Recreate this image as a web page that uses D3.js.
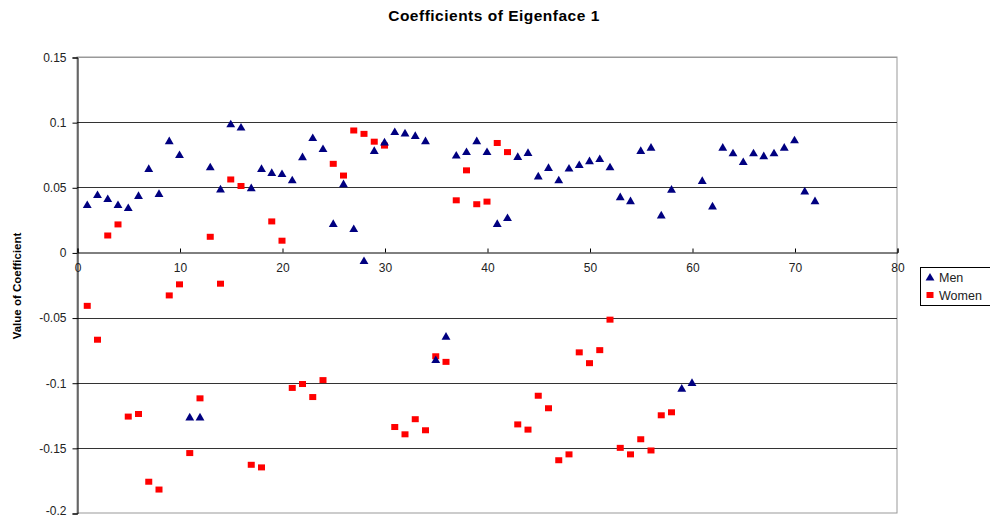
<!DOCTYPE html>
<html><head><meta charset="utf-8">
<script src="https://cdn.jsdelivr.net/npm/d3@7"></script>
<style>body{margin:0;background:#fff}svg{display:block}text{font-family:Arial,"Liberation Sans",sans-serif}</style>
</head><body>
<svg id="c" width="990" height="519"></svg>
<script>
const title = "Coefficients of Eigenface 1";
const yLabel = "Value of Coefficient";
const seriesNames = ["Men", "Women"];
const xTicks = [0,10,20,30,40,50,60,70,80];
const yTicks = [0.15,0.1,0.05,0,-0.05,-0.1,-0.15,-0.2];
const menValues = [0.036,0.0437,0.0406,0.036,0.0337,0.043,0.0637,0.0445,0.085,0.0744,
  -0.127,-0.127,0.065,0.048,0.098,0.0955,0.049,0.0637,0.0606,0.0598,
  0.055,0.0728,0.0874,0.079,0.0215,0.052,0.0176,-0.007,0.0776,0.084,
  0.092,0.091,0.089,0.085,-0.083,-0.065,0.074,0.0767,0.085,0.0767,
  0.0215,0.026,0.073,0.076,0.058,0.0645,0.055,0.064,0.0667,0.0697,
  0.0713,0.065,0.042,0.039,0.0775,0.080,0.028,0.0478,-0.105,-0.1005,
  0.0545,0.035,0.080,0.0757,0.069,0.0757,0.0735,0.0757,0.080,0.0857,
  0.0465,0.039];
const womenValues = [-0.041,-0.067,0.013,0.0215,-0.126,-0.124,-0.176,-0.182,-0.033,-0.0245,
  -0.154,-0.112,0.012,-0.024,0.056,0.051,-0.163,-0.165,0.0238,0.009,
  -0.104,-0.101,-0.111,-0.098,0.068,0.059,0.0936,0.091,0.085,0.082,
  -0.134,-0.1396,-0.128,-0.1365,-0.0797,-0.084,0.040,0.063,0.037,0.039,
  0.084,0.077,-0.132,-0.136,-0.110,-0.1196,-0.1595,-0.155,-0.0767,-0.085,
  -0.075,-0.0516,-0.150,-0.155,-0.1434,-0.152,-0.125,-0.1227];

const svg = d3.select("#c");
const L = 77, R = 897, T = 57, B = 513;
const x = d3.scaleLinear().domain([0,80]).range([L,R]);
const y = d3.scaleLinear().domain([-0.2,0.15]).range([B,T]);

// plot border
svg.append("rect").attr("x",L).attr("y",T).attr("width",R-L).attr("height",B-T)
  .attr("fill","none").attr("stroke","#999").attr("stroke-width",1);

// gridlines
svg.append("g").selectAll("line").data(yTicks.filter(d=>d!==0 && d!==-0.2))
  .join("line").attr("x1",L).attr("x2",R)
  .attr("y1",d=>Math.round(y(d))+0.5).attr("y2",d=>Math.round(y(d))+0.5)
  .attr("stroke",d=>d===0.15?"#999":"#333").attr("stroke-width",1);

// y axis
const yAxis = d3.axisLeft(y).tickValues(yTicks).tickSize(5).tickPadding(6)
  .tickFormat(d=>d===0?"0":String(d));
const gy = svg.append("g").attr("transform",`translate(${L+0.5},0.5)`).call(yAxis);
gy.select(".domain").attr("stroke","#000");
gy.selectAll(".tick line").attr("stroke","#000");
gy.selectAll(".tick text").attr("font-size",12).attr("fill","#222")
  .attr("dy",d=>d===-0.2?"0.12em":"0.32em");

// x axis at y=0
const xAxis = d3.axisTop(x).tickValues(xTicks).tickSize(4).tickFormat(d3.format("d"));
const gx = svg.append("g").attr("transform",`translate(0.5,${Math.round(y(0))+0.5})`).call(xAxis);
gx.select(".domain").attr("stroke","#000");
gx.selectAll(".tick line").attr("stroke","#000");
gx.selectAll(".tick text").attr("font-size",12).attr("fill","#222").attr("y",19).attr("dy",0);

// points
const men = menValues.map((v,i)=>({x:i+1,v}));
const women = womenValues.map((v,i)=>({x:i+1,v}));
const tri = d3.symbol().type(d3.symbolTriangle).size(34);
svg.append("g").selectAll("rect").data(women).join("rect")
  .attr("x",d=>x(d.x)-3.5).attr("y",d=>y(d.v)-3).attr("width",7).attr("height",6)
  .attr("fill","#f00");
svg.append("g").selectAll("path").data(men).join("path")
  .attr("d",tri).attr("transform",d=>`translate(${x(d.x)},${y(d.v)})`)
  .attr("fill","#000080");

// title
svg.append("text").attr("x",494).attr("y",21).attr("text-anchor","middle")
  .attr("font-size",15.5).attr("letter-spacing","0.5px").attr("font-weight","bold").text(title);
// y label
svg.append("text").attr("transform","translate(21,286) rotate(-90)")
  .attr("text-anchor","middle").attr("font-size",11.5).attr("font-weight","bold").text(yLabel);

// legend
const lg = svg.append("g").attr("transform","translate(920,267)");
lg.append("rect").attr("x",0.5).attr("y",0.5).attr("width",75).attr("height",38)
  .attr("fill","#fff").attr("stroke","#000");
lg.append("path").attr("d",tri).attr("transform","translate(10,11)").attr("fill","#000080");
lg.append("rect").attr("x",6.5).attr("y",25).attr("width",7).attr("height",6).attr("fill","#f00");
lg.selectAll("text.l").data(seriesNames).join("text").attr("class","l")
  .attr("x",19).attr("y",(d,i)=>15+i*18).attr("font-size",12.5).attr("fill","#222").text(d=>d);
</script>
</body></html>
